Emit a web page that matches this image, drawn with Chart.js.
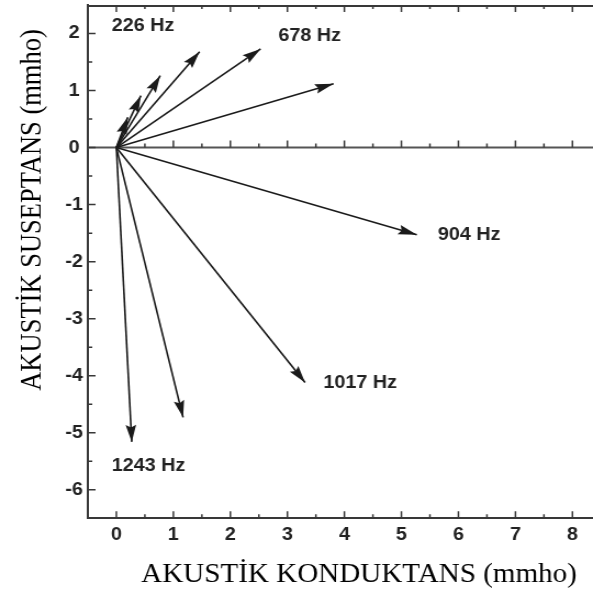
<!DOCTYPE html>
<html>
<head>
<meta charset="utf-8">
<script src="https://cdn.jsdelivr.net/npm/chart.js@4.4.0/dist/chart.umd.min.js"></script>
<style>
  html, body { margin: 0; padding: 0; background: #fff; overflow: hidden; }
  #wrap { width: 540px; height: 593px; transform: scaleX(1.0981); transform-origin: 0 0; }
  canvas { display: block; }
</style>
</head>
<body>
<div id="wrap"><canvas id="c" width="540" height="593"></canvas></div>
<script>
// Admittance vectors: tip of each arrow (conductance G, susceptance B), in mmho
const conductance = [0.20, 0.43, 0.77, 1.46, 2.53, 3.81, 5.27, 3.31, 1.17, 0.27];
const susceptance = [0.53, 0.91, 1.26, 1.68, 1.73, 1.12, -1.53, -4.12, -4.73, -5.16];

// Frequency annotations (left edge x, vertical centre y) in data units
const freqLabels = ['226 Hz', '678 Hz', '904 Hz', '1017 Hz', '1243 Hz'];
const freqLabelX = [-0.08, 2.84, 5.64, 3.63, -0.08];
const freqLabelY = [2.13, 1.96, -1.53, -4.13, -5.59];

const xTicks = [0, 1, 2, 3, 4, 5, 6, 7, 8];
const yTicks = [-6, -5, -4, -3, -2, -1, 0, 1, 2];
const xTitle = 'AKUSTİK KONDUKTANS (mmho)';
const yTitle = 'AKUSTİK SUSEPTANS (mmho)';

const INK = '#1a1a1a';
const FRAME = '#383838';

const datasets = conductance.map((g, i) => ({
  data: [{ x: 0, y: 0 }, { x: g, y: susceptance[i] }],
  showLine: true,
  borderColor: INK,
  borderWidth: 1.6,
  pointRadius: 0,
  fill: false
}));

// Frame extras: top border, zero line, inward tick marks, arrowheads, texts
const framePlugin = {
  id: 'frame',
  beforeDatasetsDraw(chart) {
    const { ctx, chartArea: a, scales: { x, y } } = chart;
    ctx.save();
    ctx.lineCap = 'butt';
    // top border
    ctx.strokeStyle = FRAME;
    ctx.lineWidth = 2;
    ctx.beginPath();
    ctx.moveTo(a.left, a.top + 1);
    ctx.lineTo(a.right, a.top + 1);
    ctx.stroke();
    // zero line
    const y0 = y.getPixelForValue(0);
    ctx.strokeStyle = '#555';
    ctx.lineWidth = 2;
    ctx.beginPath();
    ctx.moveTo(a.left, y0);
    ctx.lineTo(a.right, y0);
    ctx.stroke();

    ctx.strokeStyle = FRAME;
    ctx.lineWidth = 1.5;
    ctx.beginPath();
    // ticks along x (bottom, top, zero line)
    for (let v = 0; v <= 8.001; v += 0.5) {
      const px = x.getPixelForValue(v);
      if (px > a.right) break;
      const len = Number.isInteger(v) ? 7 : 4;
      ctx.moveTo(px, a.bottom); ctx.lineTo(px, a.bottom - len);
      ctx.moveTo(px, a.top); ctx.lineTo(px, a.top + len);
      if (v > 0) { ctx.moveTo(px, y0); ctx.lineTo(px, y0 - len); }
    }
    // ticks along y (left)
    for (let v = -6; v <= 2.001; v += 0.5) {
      const py = y.getPixelForValue(v);
      const len = Number.isInteger(v) ? 7 : 4;
      ctx.moveTo(a.left, py); ctx.lineTo(a.left + len, py);
    }
    ctx.stroke();
    ctx.restore();
  },
  afterDatasetsDraw(chart) {
    const { ctx } = chart;
    ctx.save();
    ctx.fillStyle = INK;
    chart.data.datasets.forEach((ds, i) => {
      const pts = chart.getDatasetMeta(i).data;
      const p0 = pts[0], p1 = pts[1];
      const ang = Math.atan2(p1.y - p0.y, p1.x - p0.x);
      const L = 17, W = 4.8;
      const c = Math.cos(ang), s = Math.sin(ang);
      ctx.beginPath();
      ctx.moveTo(p1.x, p1.y);
      ctx.lineTo(p1.x - L * c + W * s, p1.y - L * s - W * c);
      ctx.lineTo(p1.x - L * 0.85 * c, p1.y - L * 0.85 * s);
      ctx.lineTo(p1.x - L * c - W * s, p1.y - L * s + W * c);
      ctx.closePath();
      ctx.fill();
    });
    ctx.restore();
  },
  afterDraw(chart) {
    const { ctx, scales: { x, y } } = chart;
    ctx.save();
    // frequency annotations
    ctx.fillStyle = '#222';
    ctx.font = 'bold 18px "Liberation Sans", Arial, sans-serif';
    ctx.textAlign = 'left';
    ctx.textBaseline = 'middle';
    freqLabels.forEach((t, i) => {
      ctx.fillText(t, x.getPixelForValue(freqLabelX[i]), y.getPixelForValue(freqLabelY[i]));
    });
    // axis titles
    ctx.fillStyle = '#000';
    ctx.font = '26.5px "Liberation Serif", "Times New Roman", serif';
    ctx.textBaseline = 'alphabetic';
    ctx.textAlign = 'center';
    ctx.fillText(xTitle, 327, 582);
    ctx.translate(37, 210);
    ctx.rotate(-Math.PI / 2);
    ctx.fillText(yTitle, 0, 0);
    ctx.restore();
  }
};

const tickFont = { family: '"Liberation Sans", Arial, sans-serif', size: 18, weight: 'bold' };

new Chart(document.getElementById('c'), {
  type: 'scatter',
  data: { datasets },
  options: {
    responsive: false,
    devicePixelRatio: 1,
    animation: false,
    layout: { padding: { left: 0, right: 0, top: 5, bottom: 0 } },
    plugins: { legend: { display: false }, tooltip: { enabled: false } },
    scales: {
      x: {
        type: 'linear',
        min: -0.5,
        max: 8.36,
        afterBuildTicks: s => { s.ticks = xTicks.map(v => ({ value: v })); },
        afterFit: s => { s.height = 74.7; s.paddingLeft = 0; s.paddingRight = 0; },
        grid: { display: false, drawTicks: false },
        border: { display: true, color: FRAME, width: 2 },
        ticks: { color: '#222', font: tickFont, padding: 6, maxRotation: 0, minRotation: 0, autoSkip: false }
      },
      y: {
        type: 'linear',
        min: -6.5,
        max: 2.5,
        afterBuildTicks: s => { s.ticks = yTicks.map(v => ({ value: v })); },
        afterFit: s => { s.width = 80; s.paddingTop = 0; s.paddingBottom = 0; },
        grid: { display: false, drawTicks: false },
        border: { display: true, color: FRAME, width: 2 },
        ticks: { color: '#222', font: tickFont, padding: 4.6, crossAlign: 'center', autoSkip: false }
      }
    }
  },
  plugins: [framePlugin]
});
</script>
</body>
</html>
